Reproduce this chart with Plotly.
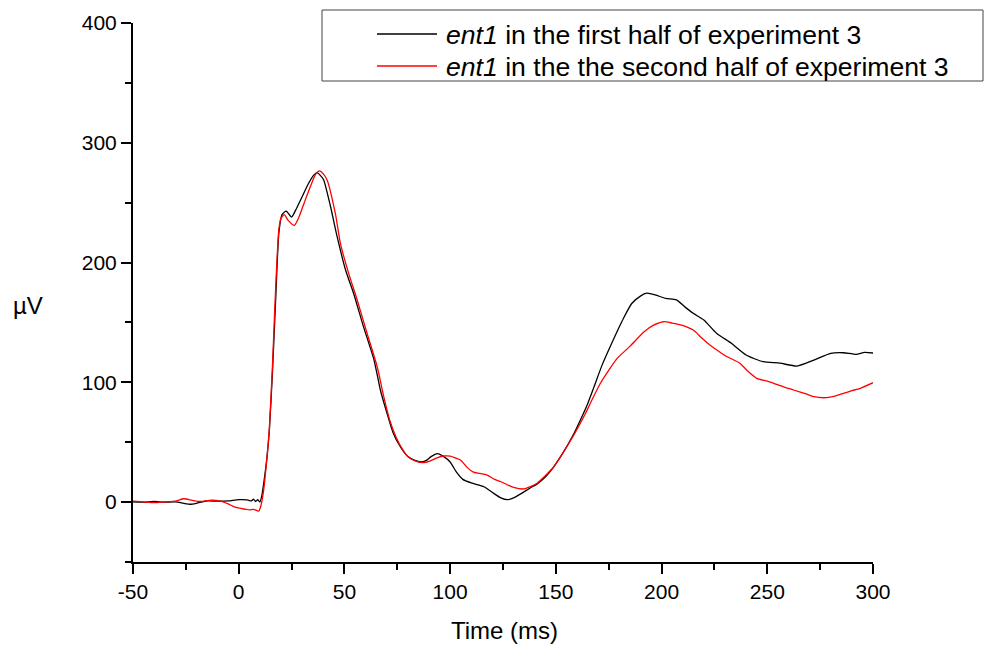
import plotly.graph_objects as go

# Averaged waveform, first half of experiment 3 (time in ms, amplitude in µV)
t_first = [-50, -45, -40, -35, -30, -26, -23, -20, -15, -10, -5, 0, 4, 6, 7, 8, 9, 10, 11, 12,
           13.4, 14.5, 16, 17.5, 19, 20.5, 22.5, 25, 27, 30, 33, 35.5, 37, 39, 40.2, 43.4, 46.5,
           50.5, 54.4, 59, 64, 67, 70, 73, 76.5, 80, 83, 86.5, 89, 91, 94, 97, 100, 103, 106, 110,
           116, 120, 124, 127, 130, 134, 138, 141, 145, 149, 153, 158.5, 161.6, 165, 168, 172, 176,
           182, 186, 190, 193, 197, 202, 207, 211, 215, 220, 226, 233, 240, 248, 256, 264, 272,
           280, 286, 292, 296, 300]
v_first = [0.3, 0, 0.5, 0, 0.2, -1, -1.8, -1, 1, 0.8, 1, 2, 1.8, 1, 2.5, 0.5, 2, 0, 6, 18,
           38, 60, 110, 170, 225, 240, 243, 238, 244, 255, 266, 273, 275, 272, 269, 247, 222,
           194, 174, 146.5, 118.6, 93.6, 75, 58, 46, 38, 35, 33.5, 35, 38, 40.5, 38, 33.5, 25, 19, 16,
           12.8, 8, 3.5, 2, 3.5, 7.5, 12, 15, 21, 29.5, 40, 57, 68.5, 82, 96, 115, 131,
           153.5, 166, 172, 174.4, 173, 170, 168.8, 163, 157.6, 152, 141, 132.6, 122.8, 117.2, 116, 113.6, 118.6,
           124.2, 124.7, 123.4, 125, 124.5]

# Averaged waveform, second half of experiment 3
t_second = [-50, -45, -40, -35, -30, -26, -22, -18, -14, -9, -5, -2, 1, 5, 7, 9.5, 10.5, 11.8,
            13.4, 14.5, 16, 17.5, 19, 20, 21.5, 23.5, 26.3, 28.5, 31, 34, 36.5, 38.2, 40, 41.8,
            45.7, 48.1, 52, 56, 60.7, 65.5, 68.6, 71.5, 74.5, 77.5, 80, 84, 87.5, 90, 93.8, 97, 100,
            103, 105, 108, 111, 114, 117.5, 121, 124, 127, 130, 135, 138, 141, 145, 149, 153,
            158.5, 161, 164, 167, 171, 175, 179, 185, 191.6, 196, 201, 205, 209, 215, 219, 223,
            227, 231, 237, 241, 245, 250, 253, 258, 262.5, 268, 272, 278, 282, 286, 290, 294, 300]
v_second = [0.8, 0.2, -0.5, 0.2, 0.8, 2.8, 1.5, 0.5, 1.5, 1, -1.5, -4, -5.3, -6.5, -6, -7.5, -3, 10,
            38, 62, 115, 180, 228, 237, 240, 235, 231, 238, 250, 264, 274, 276.5, 274, 269,
            241, 216, 191, 169, 141, 113, 88, 68, 54, 44, 38, 34, 33, 34, 37, 38.5, 38.4,
            36.5, 35, 29, 25, 24, 22.6, 19, 17, 14.5, 12.3, 11, 13, 15.6, 22, 29.5, 40,
            56, 64, 74, 85, 99, 110, 120, 130, 142, 147.5, 150.6, 149.5, 148, 143.7, 137, 131,
            126, 121.4, 116, 109, 103.3, 101, 99.2, 96, 93.6, 90.5, 88, 87.2, 88.5, 90.8, 93, 95, 99.7]

x_ticks = [-50, 0, 50, 100, 150, 200, 250, 300]
y_ticks = [0, 100, 200, 300, 400]

label_first = "ent1 in the first half of experiment 3"
label_second = "ent1 in the the second half of experiment 3"

W, H = 1000, 648
L, R, T, B = 133, 127, 23, 86
PW, PH = W - L - R, H - T - B


def px(x):
    return (x - L) / PW


def py(y):
    return (H - B - y) / PH


FONT = "Arial, Liberation Sans, sans-serif"

fig = go.Figure()
fig.add_trace(go.Scatter(x=t_first, y=v_first, mode="lines", name=label_first,
                         line=dict(color="black", width=1.3, shape="spline", smoothing=0.6),
                         showlegend=False))
fig.add_trace(go.Scatter(x=t_second, y=v_second, mode="lines", name=label_second,
                         line=dict(color="red", width=1.3, shape="spline", smoothing=0.6),
                         showlegend=False))

axis_common = dict(showline=True, linecolor="black", linewidth=2, showgrid=False,
                   zeroline=False, ticks="outside", ticklen=10, tickwidth=2,
                   tickcolor="black", tickfont=dict(family=FONT, size=21, color="black"))

fig.update_xaxes(range=[-50, 300], tickvals=x_ticks, ticktext=[str(v) for v in x_ticks],
                 minor=dict(dtick=25, tick0=-50, ticks="outside", ticklen=6, tickwidth=2,
                            tickcolor="black", showgrid=False),
                 **axis_common)
fig.update_yaxes(range=[-50, 400], tickvals=y_ticks, ticktext=[str(v) for v in y_ticks],
                 minor=dict(dtick=50, tick0=-50, ticks="outside", ticklen=6, tickwidth=2,
                            tickcolor="black", showgrid=False),
                 **axis_common)

annotations = [
    dict(text="Time (ms)", x=px(504), y=py(630), xref="paper", yref="paper",
         showarrow=False, font=dict(family=FONT, size=24, color="black"),
         xanchor="center", yanchor="middle"),
    dict(text="µV", x=px(28), y=py(305), xref="paper", yref="paper",
         showarrow=False, font=dict(family=FONT, size=24, color="black"),
         xanchor="center", yanchor="middle"),
]

# Legend box drawn in page pixels
shapes = [
    dict(type="rect", xref="paper", yref="paper", x0=px(322), x1=px(983), y0=py(10), y1=py(81),
         line=dict(color="#444", width=1), fillcolor="white", layer="above"),
]
legend_rows = [(label_first, "black", 35), (label_second, "red", 67)]
for label, color, yrow in legend_rows:
    shapes.append(dict(type="line", xref="paper", yref="paper", x0=px(377), x1=px(437),
                       y0=py(yrow - 1), y1=py(yrow - 1), line=dict(color=color, width=1.3),
                       layer="above"))
    name, rest = label.split(" ", 1)
    annotations.append(dict(text=f"<i>{name}</i> {rest}", x=px(444), y=py(yrow), xref="paper",
                            yref="paper", showarrow=False, xanchor="left", yanchor="middle",
                            font=dict(family=FONT, size=26.6, color="black")))

fig.update_layout(width=W, height=H, margin=dict(l=L, r=R, t=T, b=B),
                  plot_bgcolor="white", paper_bgcolor="white",
                  shapes=shapes, annotations=annotations)

fig.write_html("out.html")
